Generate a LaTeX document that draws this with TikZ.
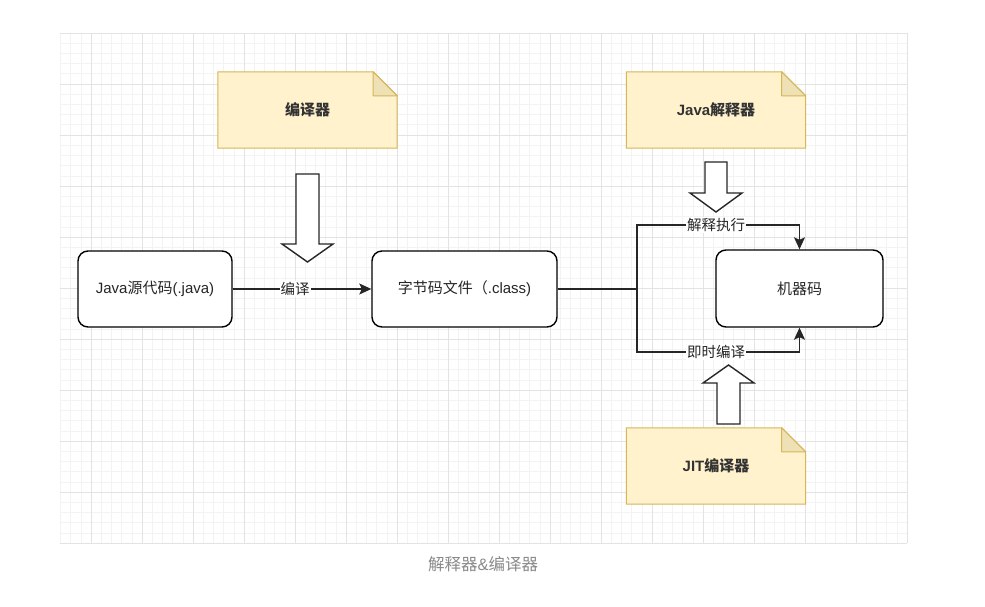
\documentclass[tikz,border=0pt]{standalone}
\usepackage{fontspec}
\setmainfont{Liberation Sans}
\newfontfamily\cjk{Noto Sans CJK SC}
\usetikzlibrary{arrows.meta}
\definecolor{notefill}{HTML}{FFF2CC}
\definecolor{notedraw}{HTML}{D6B656}
\definecolor{foldfill}{HTML}{EFE1B6}
\definecolor{gridminor}{HTML}{F3F3F3}
\definecolor{gridmajor}{HTML}{E3E3E3}
\definecolor{captiongray}{HTML}{8A8A8A}
\pgfdeclarelayer{bg}
\pgfdeclarelayer{notes}
\pgfsetlayers{bg,notes,main}
\tikzset{
  procbox/.style={draw=black, line width=1.4pt, rounded corners=10pt, fill=white, inner sep=0pt, font=\fontsize{15}{18}\selectfont, text=black!85},
  notebox/.style={minimum width=179pt, minimum height=76pt, inner sep=0pt, font=\bfseries\fontsize{15}{18}\selectfont, text=black!80},
  elabel/.style={fill=white, inner sep=1pt, font=\fontsize{14.5}{17}\selectfont, text=black!85},
  conn/.style={draw=black!85, line width=1.2pt},
  arr/.style={conn, -{Stealth[length=12pt,width=11pt,inset=2.5pt]}},
  bigarrow/.style={draw=black!85, line width=1.4pt, fill=white, line join=miter},
  notepath/.style={fill=notefill, draw=notedraw, line width=1pt},
  foldpath/.style={fill=foldfill, draw=notedraw, line width=1pt, line join=round}
}
\begin{document}
\begin{tikzpicture}[x=1pt,y=-1pt]
\useasboundingbox (0,0) rectangle (985,607);
% grid
\begin{pgfonlayer}{bg}
  \fill[white] (0,0) rectangle (985,607);
  \foreach \i in {0,...,83} { \draw[gridminor, line width=0.6pt] ({60.4+10.2*\i},33) -- ({60.4+10.2*\i},543); }
  \foreach \j in {0,...,50} { \draw[gridminor, line width=0.6pt] (60.4,{33+10.2*\j}) -- (907,{33+10.2*\j}); }
  \foreach \i in {0,...,16} { \draw[gridmajor, line width=0.8pt] ({91+51*\i},33) -- ({91+51*\i},543); }
  \foreach \j in {0,...,10} { \draw[gridmajor, line width=0.8pt] (60.4,{33+51*\j}) -- (907,{33+51*\j}); }
\end{pgfonlayer}

% notes
\node[notebox] (n1) at (307.5,110) {\cjk 编译器};
\node[notebox] (n2) at (716,110) {Java{\cjk 解释器}};
\node[notebox] (n3) at (716,466) {JIT{\cjk 编译器}};
\begin{pgfonlayer}{notes}
  \foreach \n in {n1,n2,n3} {
    \draw[notepath] (\n.north west) -- ([xshift=-24pt]\n.north east) -- ([yshift=-24pt]\n.north east) -- (\n.south east) -- (\n.south west) -- cycle;
    \draw[foldpath] ([xshift=-24pt]\n.north east) -- ([xshift=-24pt,yshift=-24pt]\n.north east) -- ([yshift=-24pt]\n.north east) -- cycle;
  }
\end{pgfonlayer}

% block arrows
\draw[bigarrow] (296,174) -- (319,174) -- (319,244) -- (333,244) -- (307.5,262) -- (282,244) -- (296,244) -- cycle;
\draw[bigarrow] (705,162) -- (727,162) -- (727,193) -- (742,193) -- (716,212) -- (690,193) -- (705,193) -- cycle;
\draw[bigarrow] (717,424) -- (740,424) -- (740,383) -- (754,383) -- (728.5,365) -- (703,383) -- (717,383) -- cycle;

% process boxes
\node[procbox, minimum width=154pt, minimum height=76pt] (b1) at (155,289) {Java{\cjk 源代码}(.java)};
\node[procbox, minimum width=185pt, minimum height=76pt] (b2) at (464.5,289) {{\cjk 字节码文件（}.class)};
\node[procbox, minimum width=167pt, minimum height=77pt] (b3) at (799.5,288.5) {\cjk 机器码};

% connectors
\draw[arr] (b1.east) -- node[elabel, pos=0.45] (l1) {\cjk 编译} (b2.west |- b1.east);
\coordinate (j) at (637,289);
\coordinate (jt) at (637,225);
\coordinate (jb) at (637,352);
\draw[conn] (b2.east) -- (j);
\draw[arr] (j) -- (jt) -| (b3.north);
\draw[arr] (j) -- (jb) -| (b3.south);
\node[elabel] (l2) at (716,225) {\cjk 解释执行};
\node[elabel] (l3) at (716,352) {\cjk 即时编译};

% caption
\node[font=\fontsize{16.5}{19}\selectfont, text=captiongray] (cap) at (483,564) {{\cjk 解释器}\&{\cjk 编译器}};
\end{tikzpicture}
\end{document}
